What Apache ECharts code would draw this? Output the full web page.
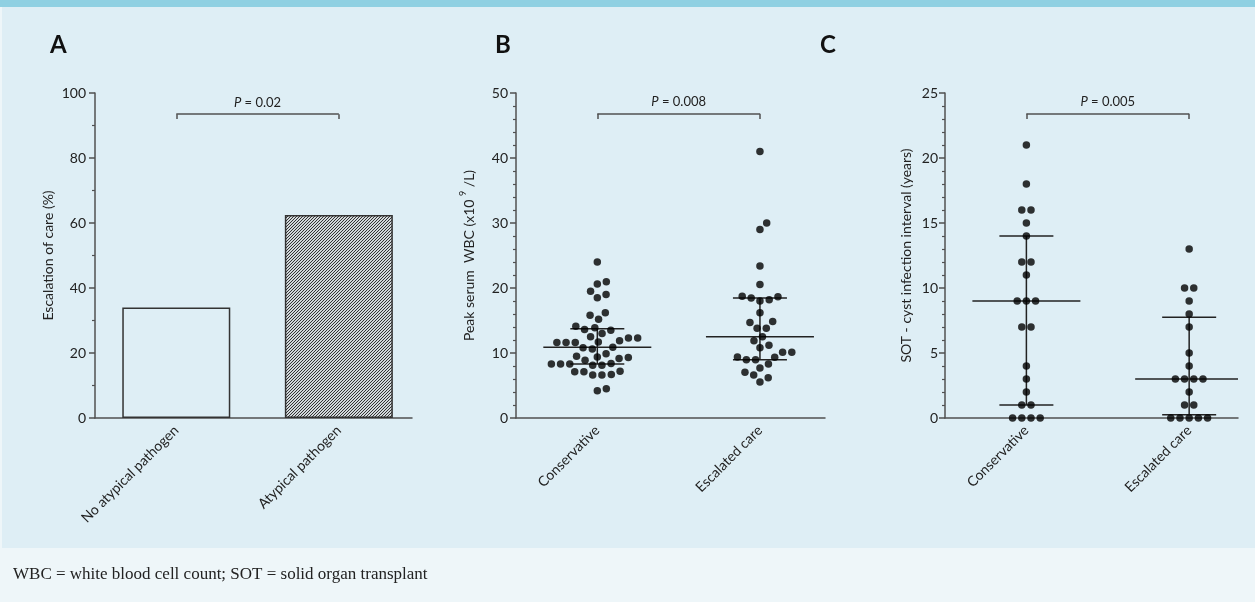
<!DOCTYPE html>
<html><head><meta charset="utf-8">
<script src="https://cdn.jsdelivr.net/npm/echarts@6/dist/echarts.min.js"></script>
<style>
html,body{margin:0;padding:0;width:1255px;height:602px;overflow:hidden;background:#eef6f9;}
#bgTop{position:absolute;left:0;top:0;width:1255px;height:7px;background:#8fd0e2;}
#bgMain{position:absolute;left:2px;top:7px;width:1253px;height:541px;background:#deeef5;}
#chart{position:absolute;left:0;top:0;width:1255px;height:602px;}
</style></head><body>
<div id="bgTop"></div><div id="bgMain"></div><div id="chart"></div>
<script>
// ---------------- data ----------------
const panelLetters = ['A', 'B', 'C'];
const aCategories = ['No atypical pathogen', 'Atypical pathogen'];
const aValues = [34, 62.5];
const aYRange = [0, 100, 20];
const aYName = 'Escalation of care (%)';

const bCategories = ['Conservative', 'Escalated care'];
const bConservative = [24.0, 20.6, 20.96, 19.0, 19.5, 18.5, 16.2, 15.8, 15.2, 13.9, 13.5, 13.6, 14.1, 13.0,
  12.3, 11.9, 11.6, 11.6, 11.6, 11.7, 12.3, 12.5, 10.8, 10.6, 10.9, 9.9, 9.5, 9.3, 8.9, 9.15, 9.4,
  8.3, 8.3, 8.1, 8.1, 8.3, 8.4, 7.2, 7.1, 6.6, 6.6, 6.7, 7.1, 4.2, 4.5];
const bEscalated = [41.0, 29.0, 30.0, 23.4, 20.55, 18.65, 18.2, 18.0, 18.45, 18.75, 16.2, 14.85, 14.7,
  13.8, 13.8, 12.5, 11.9, 11.2, 10.8, 10.1, 10.1, 9.35, 9.4, 8.95, 8.95, 8.3, 7.7, 7.05, 6.6, 6.2, 5.55];
const bYRange = [0, 50, 10];
const bYName = 'Peak serum  WBC (x10 {sup|9} /L)';

const cCategories = ['Conservative', 'Escalated care'];
const cConservative = [21, 18, 16, 16, 15, 14, 12, 12, 11, 9, 9, 9, 7, 7, 4, 3, 2, 1, 1, 0, 0, 0, 0];
const cEscalated = [13, 10, 10, 9, 8, 7, 5, 4, 3, 3, 3, 3, 2, 1, 1, 0, 0, 0, 0, 0];
const cYRange = [0, 25, 5];
const cYName = 'SOT - cyst infection interval (years)';

const pValues = ['0.02', '0.008', '0.005'];
const footnote = 'WBC = white blood cell count; SOT = solid organ transplant';

// ---------------- helpers ----------------
const FONT = 'Lato, "Open Sans", sans-serif';
const AX = '#505050';
const TXT = '#222';
const GH = 325;
const grids = [
  {left: 95, top: 93, width: 317, height: GH, xMax: 1.95},
  {left: 516, top: 93, width: 309, height: GH, xMax: 1.9},
  {left: 945, top: 93, width: 293, height: GH, xMax: 1.8}
];

function quantile(sorted, p) {
  const n = sorted.length, pos = p * (n + 1), lo = Math.floor(pos), fr = pos - lo;
  if (lo < 1) return sorted[0];
  if (lo >= n) return sorted[n - 1];
  return sorted[lo - 1] + fr * (sorted[lo] - sorted[lo - 1]);
}
function stats(vals, x) {
  const s = [...vals].sort((a, b) => a - b);
  return [x, quantile(s, 0.5), quantile(s, 0.25), quantile(s, 0.75)];
}
function swarmOffsets(values, yPx, d) {
  const order = values.map((v, i) => i).sort((a, b) => values[a] - values[b]);
  const placed = [], off = new Array(values.length).fill(0);
  let k = 0;
  while (k < order.length) {
    let j = k;
    while (j < order.length && values[order[j]] === values[order[k]]) j++;
    const n = j - k, y = values[order[k]] * yPx;
    let best = 0;
    for (let s = 0; s < 4000; s++) {
      const c = (s % 2 ? 1 : -1) * Math.ceil(s / 2) * 0.25;
      let ok = true;
      for (let i = 0; i < n && ok; i++) {
        const x = c + (i - (n - 1) / 2) * d;
        for (const p of placed) {
          if ((p.x - x) * (p.x - x) + (p.y - y) * (p.y - y) < d * d - 1e-6) { ok = false; break; }
        }
      }
      if (ok) { best = c; break; }
    }
    for (let i = 0; i < n; i++) {
      const x = best + (i - (n - 1) / 2) * d;
      off[order[k + i]] = x; placed.push({x, y});
    }
    k = j;
  }
  return off;
}
function swarmData(groups, gi, yMax) {
  const g = grids[gi];
  const yPx = g.height / yMax, xPx = g.width / g.xMax;
  const out = [];
  groups.forEach((vals, ci) => {
    const off = swarmOffsets(vals, yPx, 9.2);
    vals.forEach((v, k) => out.push([ci + 0.5 + off[k] / xPx, v]));
  });
  return out;
}

function xAxisCfg(gi, cats) {
  return {
    type: 'value', gridIndex: gi, min: 0, max: grids[gi].xMax,
    axisLine: {show: true, onZero: false, lineStyle: {color: AX, width: 1.5}},
    axisTick: {show: false}, splitLine: {show: false},
    axisLabel: {
      customValues: cats.map((c, i) => i + 0.5),
      formatter: v => cats[Math.round(v - 0.5)],
      rotate: 45, margin: 10, fontFamily: FONT, fontSize: 14, color: TXT
    }
  };
}
function yAxisCfg(gi, range, minorSplit, name, nameGap, margin) {
  return {
    type: 'value', gridIndex: gi, min: range[0], max: range[1], interval: range[2],
    name: name, nameLocation: 'middle', nameGap: nameGap, nameRotate: 90,
    nameTextStyle: {fontFamily: FONT, fontSize: 14, color: TXT,
      rich: {sup: {fontFamily: FONT, fontSize: 9, color: TXT, verticalAlign: 'top', lineHeight: 20}}},
    axisLine: {show: true, lineStyle: {color: AX, width: 1.5}},
    axisTick: {show: true, length: 6, lineStyle: {color: AX, width: 1.5}},
    minorTick: {show: true, splitNumber: minorSplit, length: 3, lineStyle: {color: AX, width: 1.2}},
    axisLabel: {margin: margin, fontFamily: FONT, fontSize: 14, color: TXT},
    splitLine: {show: false}, minorSplitLine: {show: false}
  };
}
function bracket(top, bot, p) {
  return {
    silent: true, symbol: ['none', 'none'], animation: false,
    lineStyle: {color: AX, width: 1.5, type: 'solid'},
    label: {show: false}, emphasis: {disabled: true},
    data: [
      [{coord: [0.5, top], label: {show: true, position: 'insideMiddleTop', distance: 5,
        formatter: '{i|P} = ' + p, fontFamily: FONT, fontSize: 13, color: TXT,
        rich: {i: {fontStyle: 'italic', fontFamily: FONT, fontSize: 13, color: TXT}}}},
       {coord: [1.5, top]}],
      [{coord: [0.5, top]}, {coord: [0.5, bot]}],
      [{coord: [1.5, top]}, {coord: [1.5, bot]}]
    ]
  };
}
function summarySeries(gi, groups) {
  return {
    type: 'custom', xAxisIndex: gi, yAxisIndex: gi, z: 2, clip: true, silent: true,
    data: groups.map((vals, i) => stats(vals, i + 0.5)),
    encode: {x: 0, y: [1, 2, 3]},
    renderItem: (params, api) => {
      const x = api.value(0);
      const m = api.coord([x, api.value(1)]);
      const lo = api.coord([x, api.value(2)]);
      const hi = api.coord([x, api.value(3)]);
      const st = {stroke: '#222', lineWidth: 1.5};
      return {type: 'group', children: [
        {type: 'line', shape: {x1: m[0] - 54, y1: m[1], x2: m[0] + 54, y2: m[1]}, style: st},
        {type: 'line', shape: {x1: lo[0] - 27, y1: lo[1], x2: lo[0] + 27, y2: lo[1]}, style: st},
        {type: 'line', shape: {x1: hi[0] - 27, y1: hi[1], x2: hi[0] + 27, y2: hi[1]}, style: st},
        {type: 'line', shape: {x1: m[0], y1: lo[1], x2: m[0], y2: hi[1]}, style: st}
      ]};
    }
  };
}

// hatch pattern
const hc = document.createElement('canvas');
hc.width = 3; hc.height = 3;
const g2 = hc.getContext('2d');
g2.fillStyle = '#d2d8db'; g2.fillRect(0, 0, 3, 3);
g2.strokeStyle = '#333'; g2.lineWidth = 1.0;
g2.beginPath();
g2.moveTo(0, 3); g2.lineTo(3, 0);
g2.moveTo(-1, 1); g2.lineTo(1, -1);
g2.moveTo(2, 4); g2.lineTo(4, 2);
g2.stroke();

const chart = echarts.init(document.getElementById('chart'), null, {renderer: 'canvas'});
const letterLeft = [50, 495, 820];
const option = {
  animation: false,
  backgroundColor: 'transparent',
  title: panelLetters.map((t, i) => ({
    text: t, left: letterLeft[i], top: 33, padding: 0,
    textStyle: {fontFamily: FONT, fontWeight: 'bold', fontSize: 24, color: '#111'}
  })).concat([{
    text: footnote, left: 13, top: 566, padding: 0,
    textStyle: {fontFamily: '"Liberation Serif", "DejaVu Serif", serif', fontWeight: 'normal', fontSize: 17, color: '#222'}
  }]),
  grid: grids.map(g => ({left: g.left, top: g.top, width: g.width, height: g.height})),
  xAxis: [xAxisCfg(0, aCategories), xAxisCfg(1, bCategories), xAxisCfg(2, cCategories)],
  yAxis: [
    yAxisCfg(0, aYRange, 2, aYName, 40, 9),
    yAxisCfg(1, bYRange, 5, bYName, 37, 8),
    yAxisCfg(2, cYRange, 5, cYName, 32, 7)
  ],
  series: [
    {
      type: 'bar', xAxisIndex: 0, yAxisIndex: 0, barWidth: 108, silent: true,
      data: aValues.map((v, i) => ({
        value: [i + 0.5, v],
        itemStyle: i === 0
          ? {color: 'rgba(0,0,0,0)', borderColor: '#333', borderWidth: 1.5}
          : {color: {image: hc, repeat: 'repeat'}, borderColor: '#333', borderWidth: 1.5}
      })),
      markLine: bracket(93.5, 92, pValues[0])
    },
    summarySeries(1, [bConservative, bEscalated]),
    {
      type: 'scatter', xAxisIndex: 1, yAxisIndex: 1, z: 3, silent: true,
      symbolSize: 7.5, itemStyle: {color: '#000'},
      data: swarmData([bConservative, bEscalated], 1, bYRange[1]),
      markLine: bracket(46.8, 46.0, pValues[1])
    },
    summarySeries(2, [cConservative, cEscalated]),
    {
      type: 'scatter', xAxisIndex: 2, yAxisIndex: 2, z: 3, silent: true,
      symbolSize: 7.5, itemStyle: {color: '#000'},
      data: swarmData([cConservative, cEscalated], 2, cYRange[1]),
      markLine: bracket(23.4, 23.0, pValues[2])
    }
  ]
};
chart.setOption(option);
</script>
</body></html>
